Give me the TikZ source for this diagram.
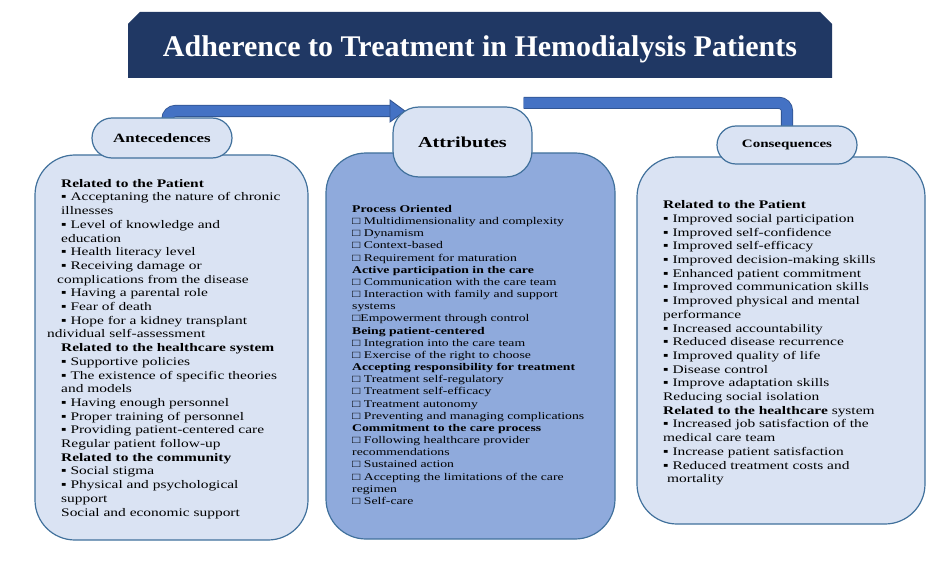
\documentclass[tikz,border=0pt]{standalone}
\usepackage{fontspec}
\setmainfont{Liberation Serif}
\newfontfamily\widefont[FakeStretch=1.33]{Liberation Serif}
\usetikzlibrary{backgrounds}
\definecolor{navy}{HTML}{203864}
\definecolor{paleblue}{HTML}{DAE3F3}
\definecolor{midblue}{HTML}{8FAADC}
\definecolor{edgeblue}{HTML}{41719C}
\definecolor{bandblue}{HTML}{4472C4}
\definecolor{bandedge}{HTML}{2F528F}
\begin{document}
\begin{tikzpicture}[x=1pt,y=-1pt,line join=round,
	box/.style={draw=edgeblue,line width=1.2pt,fill=paleblue,rounded corners=40pt},
	pill/.style={draw=edgeblue,line width=1.2pt,fill=paleblue},
	list/.style={anchor=north west,inner sep=0pt,text width=262pt,align=left,font=\widefont\fontsize{11.6}{13.7}\selectfont},
	band/.style={draw=bandedge,line width=.8pt,double=bandblue,double distance=10.5pt,rounded corners=8pt}]
		\useasboundingbox (0,0) rectangle (948,567);
		\fill[navy] (128,78)--(128,24)--(140,12)--(820,12)--(832,24)--(832,78)--cycle;
		\node[anchor=base,text=white,font=\bfseries\fontsize{30}{36}\selectfont] (title) at (480,57) {Adherence to Treatment in Hemodialysis Patients};
		\node[box,minimum width=273pt,minimum height=385pt] (antebox) at (171.5,347.5) {};
		\node[box,fill=midblue,minimum width=289pt,minimum height=386pt] (attrbox) at (470.5,346) {};
		\node[box,minimum width=288pt,minimum height=367pt] (consbox) at (781,340.5) {};
		\node[pill,rounded corners=20pt,minimum width=140pt,minimum height=40pt,font=\widefont\bfseries\fontsize{12.7}{15}\selectfont] (ante) at (162,138) {Antecedences};
		\node[pill,rounded corners=26pt,minimum width=139pt,minimum height=70pt,font=\widefont\bfseries\fontsize{15.2}{18}\selectfont] (attr) at (462.5,142) {Attributes};
		\node[pill,rounded corners=19pt,minimum width=140pt,minimum height=38pt,font=\widefont\bfseries\fontsize{11.3}{14}\selectfont] (cons) at (787,145) {Consequences};
		\coordinate (tip) at (405,111);
		\begin{scope}[on background layer]
			\draw[band] ([xshift=5.5pt]ante.center) |- ([xshift=-14pt]tip);
			\filldraw[draw=bandedge,fill=bandblue,line width=.8pt] ([xshift=-15pt,yshift=11pt]tip)--(tip)--([xshift=-15pt,yshift=-11pt]tip)--cycle;
			\draw[band] ([shift={(-9pt,3.5pt)}]attr.north east) -| (cons.center);
		\end{scope}
		\node[list] (antelist) at (61,179) {\textbf{Related to the Patient}\\
			▪ Acceptaning the nature of chronic\\
			illnesses\\
			▪ Level of knowledge and\\
			education\\
			▪ Health literacy level\\
			▪ Receiving damage or\\
			\hspace*{-4pt}complications from the disease\\
			▪ Having a parental role\\
			▪ Fear of death\\
			▪ Hope for a kidney transplant\\
			\hspace*{-14pt}ndividual self-assessment\\
			\textbf{Related to the healthcare system}\\
			▪ Supportive policies\\
			▪ The existence of specific theories\\
			and models\\
			▪ Having enough personnel\\
			▪ Proper training of personnel\\
			▪ Providing patient-centered care\\
			Regular patient follow-up\\
			\textbf{Related to the community}\\
			▪ Social stigma\\
			▪ Physical and psychological\\
			support\\
			Social and economic support};
		\node[list,font=\widefont\fontsize{10.3}{12.17}\selectfont] (attrlist) at (352,205) {\textbf{Process Oriented}\\
			□ Multidimensionality and complexity\\
			□ Dynamism\\
			□ Context-based\\
			□ Requirement for maturation\\
			\textbf{Active participation in the care}\\
			□ Communication with the care team\\
			□ Interaction with family and support\\
			systems\\
			□Empowerment through control\\
			\textbf{Being patient-centered}\\
			□ Integration into the care team\\
			□ Exercise of the right to choose\\
			\textbf{Accepting responsibility for treatment}\\
			□ Treatment self-regulatory\\
			□ Treatment self-efficacy\\
			□ Treatment autonomy\\
			□ Preventing and managing complications\\
			\textbf{Commitment to the care process}\\
			□ Following healthcare provider\\
			recommendations\\
			□ Sustained action\\
			□ Accepting the limitations of the care\\
			regimen\\
			□ Self-care};
		\node[list] (conslist) at (663,200.5) {\textbf{Related to the Patient}\\
			▪ Improved social participation\\
			▪ Improved self-confidence\\
			▪ Improved self-efficacy\\
			▪ Improved decision-making skills\\
			▪ Enhanced patient commitment\\
			▪ Improved communication skills\\
			▪ Improved physical and mental\\
			performance\\
			▪ Increased accountability\\
			▪ Reduced disease recurrence\\
			▪ Improved quality of life\\
			▪ Disease control\\
			▪ Improve adaptation skills\\
			Reducing social isolation\\
			\textbf{Related to the healthcare} system\\
			▪ Increased job satisfaction of the\\
			medical care team\\
			▪ Increase patient satisfaction\\
			▪ Reduced treatment costs and\\
			\hspace*{4pt}mortality};
\end{tikzpicture}
\end{document}
